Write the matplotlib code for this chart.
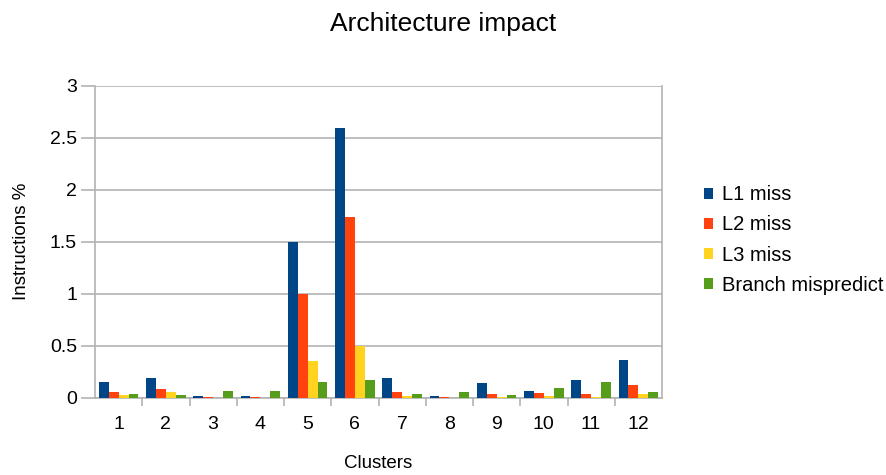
import numpy as np
import matplotlib
matplotlib.use("Agg")
import matplotlib.pyplot as plt
from matplotlib.patches import Patch

clusters = ["1", "2", "3", "4", "5", "6", "7", "8", "9", "10", "11", "12"]
l1_miss = [0.15, 0.19, 0.01, 0.01, 1.50, 2.60, 0.185, 0.01, 0.135, 0.065, 0.17, 0.36]
l2_miss = [0.05, 0.08, 0.003, 0.005, 1.00, 1.74, 0.05, 0.005, 0.03, 0.04, 0.03, 0.12]
l3_miss = [0.02, 0.05, 0.0, 0.0, 0.35, 0.50, 0.01, 0.0, 0.005, 0.01, 0.005, 0.03]
branch_mispredict = [0.03, 0.025, 0.06, 0.06, 0.15, 0.165, 0.03, 0.05, 0.025, 0.095, 0.15, 0.05]

series = [
    ("L1 miss", l1_miss, "#004586"),
    ("L2 miss", l2_miss, "#ff420e"),
    ("L3 miss", l3_miss, "#ffd320"),
    ("Branch mispredict", branch_mispredict, "#579d1c"),
]

plt.rcParams["font.family"] = ["Liberation Sans", "DejaVu Sans"]
grid_col = "#b3b3b3"

fig = plt.figure(figsize=(8.86, 4.75), dpi=100)
W, H = 886, 475
ax = fig.add_axes([95 / W, 1 - 397.5 / H, (662 - 95) / W, (397.5 - 86) / H])

x = np.arange(len(clusters))
bw = 0.21
for i, (name, vals, col) in enumerate(series):
    ax.bar(x + (i - 1.5) * bw, vals, width=bw, color=col, label=name, zorder=3)

ax.set_xlim(-0.5, len(clusters) - 0.5)
ax.set_ylim(0, 3)
ax.set_yticks(np.arange(0, 3.01, 0.5))
ax.set_yticklabels(["0", "0.5", "1", "1.5", "2", "2.5", "3"], fontsize=14)
ax.yaxis.grid(True, color=grid_col, linewidth=1.2, zorder=0)

# category labels centred, tick marks on group boundaries
ax.set_xticks(x)
ax.set_xticklabels(clusters, fontsize=14)
ax.tick_params(axis="x", length=0, pad=13)
ax.set_xticks(np.arange(0.5, len(clusters) - 0.5, 1.0), minor=True)
ax.tick_params(axis="x", which="minor", length=6, color=grid_col, width=1.2)
ax.tick_params(axis="y", length=10, color=grid_col, width=1.2, pad=3)

for side in ["left", "bottom", "right"]:
    ax.spines[side].set_color(grid_col)
    ax.spines[side].set_linewidth(1.2)
ax.spines["top"].set_visible(False)

ax.set_xlabel("Clusters", fontsize=13.5, labelpad=16)
ax.set_ylabel("Instructions %", fontsize=13.5, labelpad=14)
fig.suptitle("Architecture impact", fontsize=19, y=0.975)

handles = [Patch(facecolor=c, label=n) for n, _, c in series]
fig.legend(handles=handles, loc="center left", bbox_to_anchor=(704 / W, 1 - 240 / H),
           frameon=False, fontsize=14.5, handlelength=0.45, handleheight=0.45,
           handletextpad=0.45, labelspacing=0.55, borderpad=0, borderaxespad=0)

fig.savefig("out.png", dpi=100)
